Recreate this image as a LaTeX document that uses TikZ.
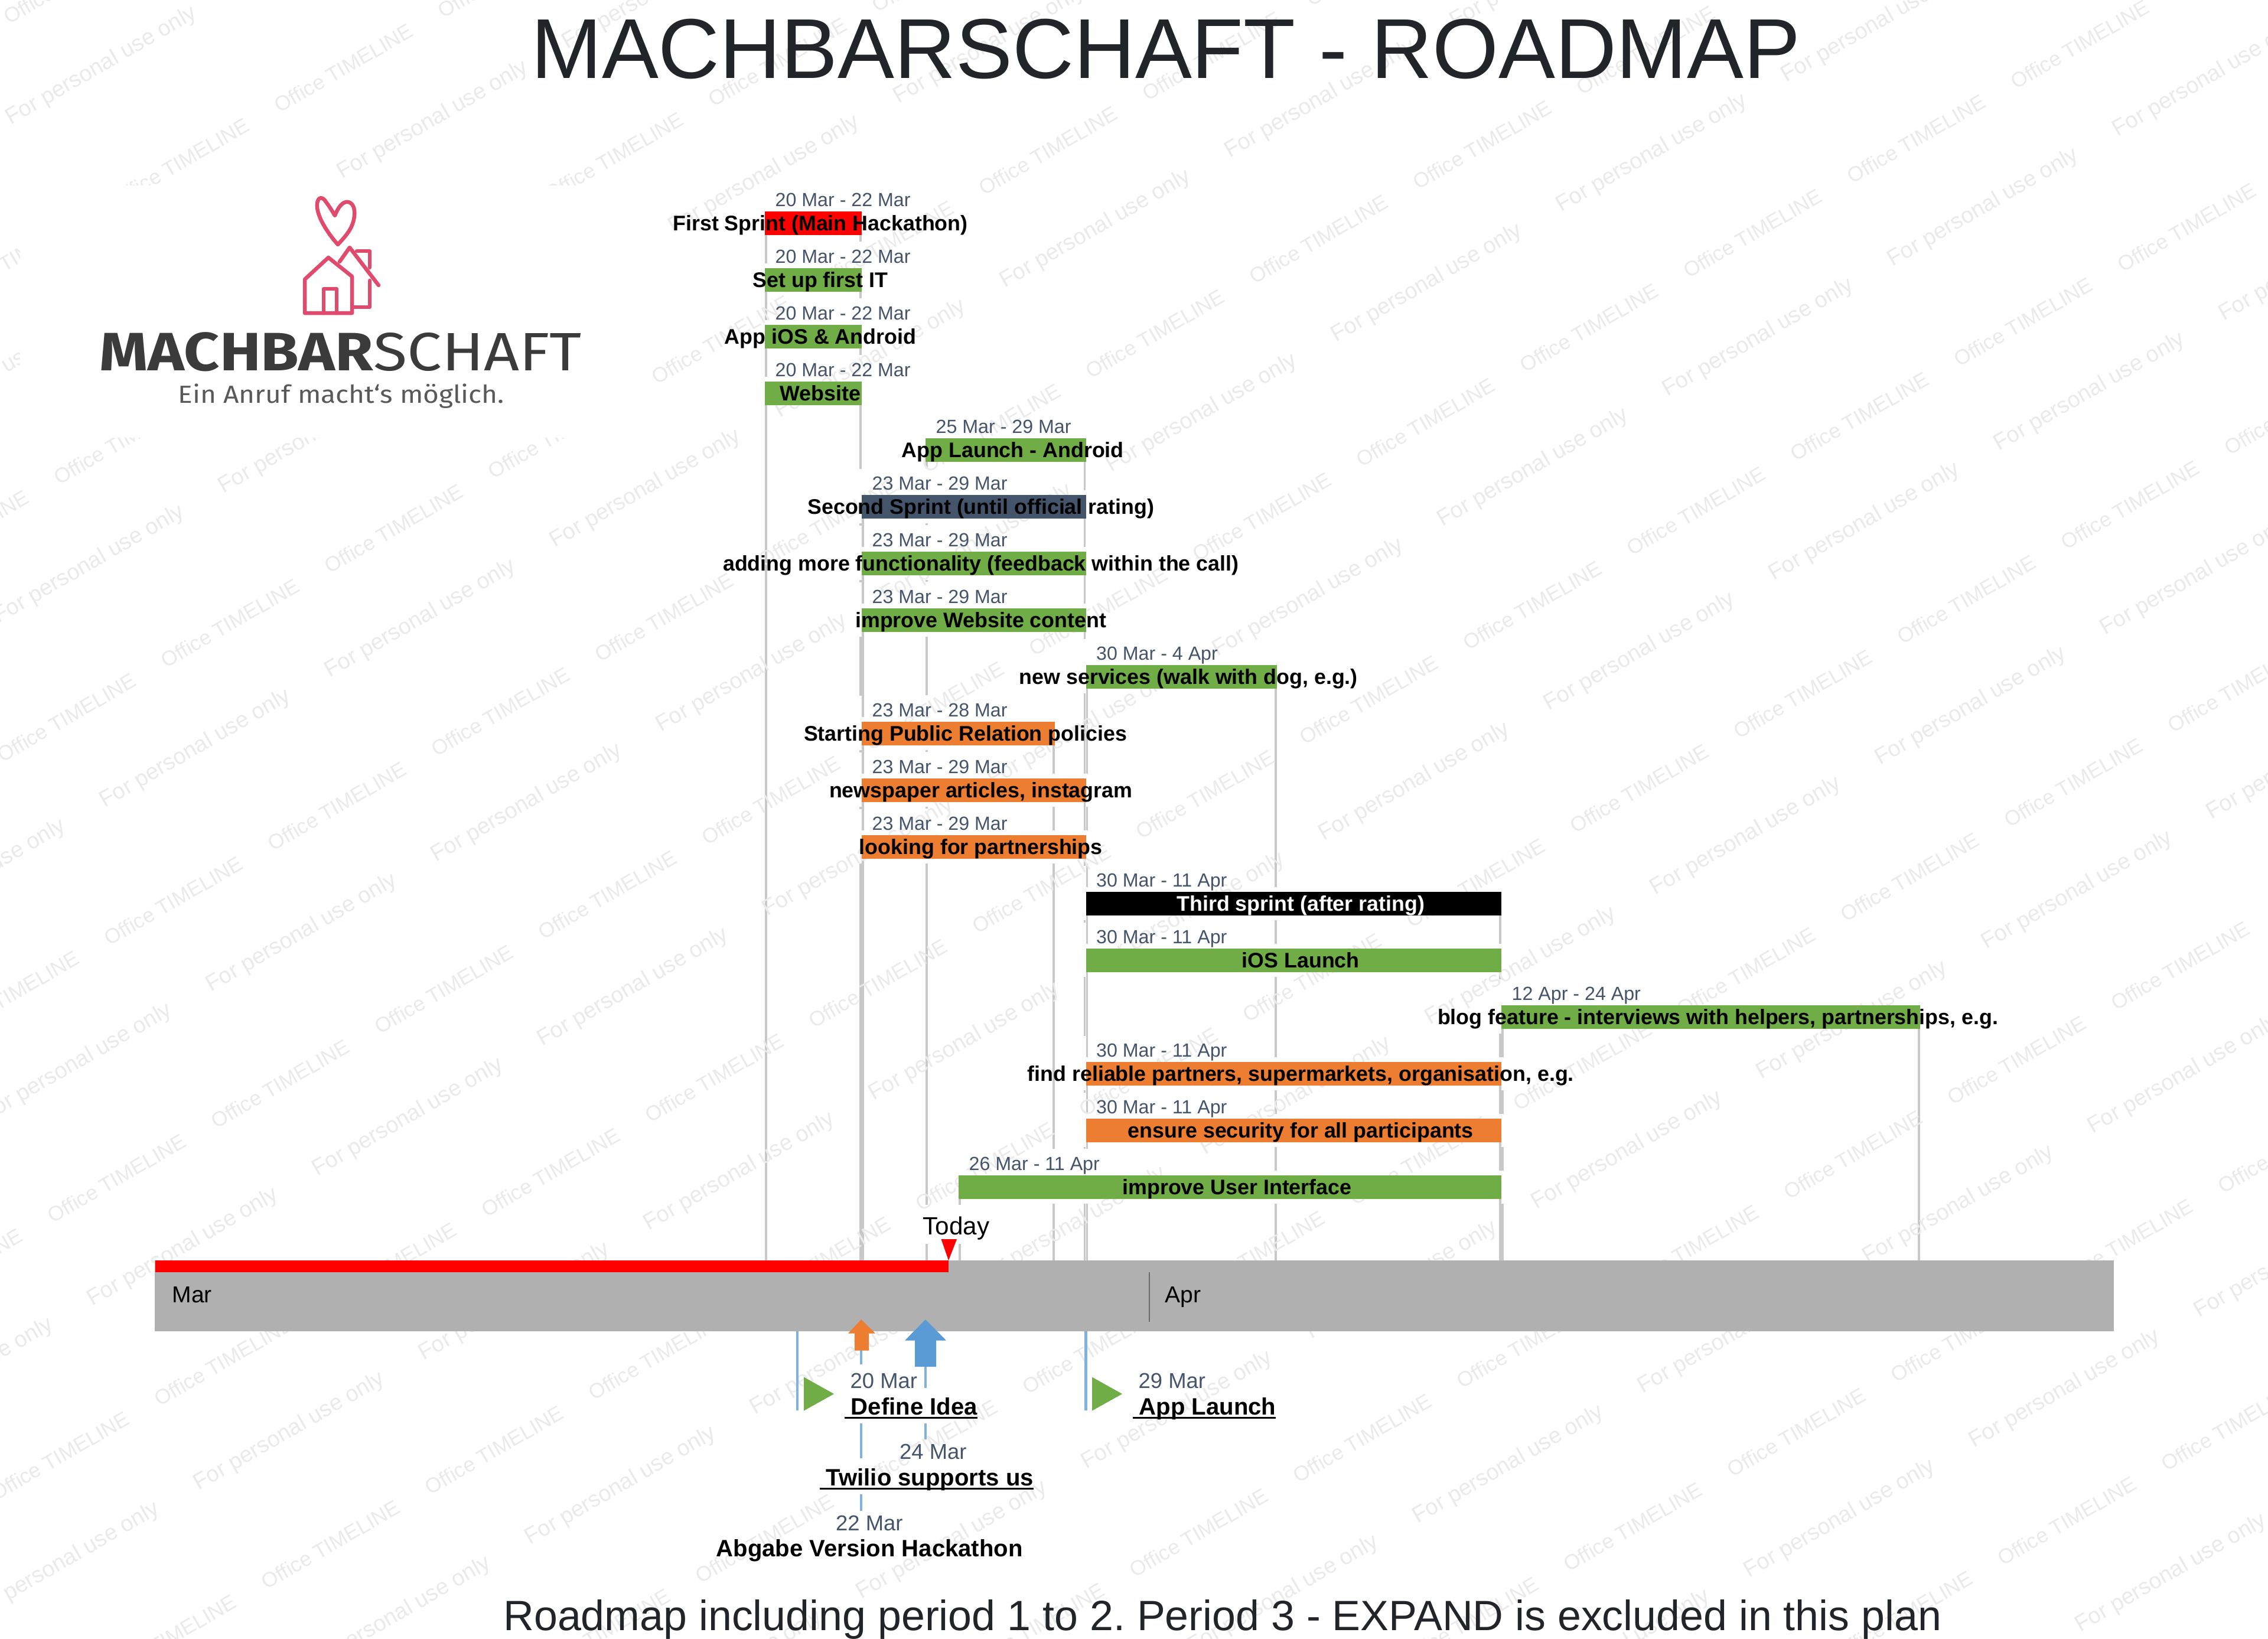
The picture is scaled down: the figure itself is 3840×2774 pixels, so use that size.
\documentclass[tikz,border=0pt]{standalone}
\usepackage{fontspec}
\setmainfont{Liberation Sans}
\newfontfamily\logofont{Fira Sans}
\definecolor{barred}{HTML}{FF0000}
\definecolor{bargreen}{HTML}{70AD47}
\definecolor{barorange}{HTML}{ED7D31}
\definecolor{barslate}{HTML}{44546A}
\definecolor{barblack}{HTML}{000000}
\definecolor{barblue}{HTML}{5B9BD5}
\definecolor{datecol}{HTML}{44546A}
\definecolor{dropcol}{HTML}{C8C8C8}
\definecolor{bandcol}{HTML}{B0B0B0}
\definecolor{mscol}{HTML}{7FB3DD}
\definecolor{wmcol}{HTML}{EAEAEA}
\definecolor{titlecol}{HTML}{212529}
\definecolor{logored}{HTML}{E04A6C}
\definecolor{logotxt}{HTML}{3B3B3B}
\definecolor{logosub}{HTML}{595959}
\frenchspacing
\newcommand{\datefont}{\fontsize{9.15}{11}\selectfont}
\newcommand{\msdatefont}{\fontsize{10.35}{12}\selectfont}
\newcommand{\labfont}{\bfseries\fontsize{10.18}{12}\selectfont}
\newcommand{\mslabfont}{\bfseries\fontsize{11.4}{13}\selectfont}
\newsavebox{\ulbox}
\newcommand{\ulined}[1]{\sbox{\ulbox}{#1}\leavevmode\rlap{\rule[-2.1pt]{\wd\ulbox}{1.1pt}}\usebox{\ulbox}}
\tikzset{
  drop/.style={draw=dropcol,line width=0.035cm},
  wmarko/.style={text=wmcol,font=\fontsize{10}{12}\selectfont,rotate=30,inner sep=0pt},
  wmarkp/.style={text=wmcol,font=\fontsize{10.8}{12}\selectfont,rotate=30,inner sep=0pt},
  bartext/.style={anchor=base,inner sep=0pt,font=\labfont},
  datetext/.style={anchor=base west,inner sep=0pt,font=\datefont,text=datecol},
  msdate/.style={anchor=base west,inner sep=0pt,font=\msdatefont,text=datecol},
  mstext/.style={anchor=base west,inner sep=0pt,font=\mslabfont},
  msline/.style={draw=mscol,line width=0.045cm},
  logoline/.style={draw=logored,line width=0.065cm,line join=round,line cap=round},
}
\newcommand{\rowdata}{
 0/1295/1459/barred/{20 Mar - 22 Mar}/{First Sprint (Main Hackathon)}/black,
 1/1295/1459/bargreen/{20 Mar - 22 Mar}/{Set up first IT}/black,
 2/1295/1459/bargreen/{20 Mar - 22 Mar}/{App iOS \& Android}/black,
 3/1295/1459/bargreen/{20 Mar - 22 Mar}/{Website}/black,
 4/1567/1838.5/bargreen/{25 Mar - 29 Mar}/{App Launch - Android}/black,
 5/1459/1838.5/barslate/{23 Mar - 29 Mar}/{Second Sprint (until official rating)}/black,
 6/1459/1838.5/bargreen/{23 Mar - 29 Mar}/{adding more functionality (feedback within the call)}/black,
 7/1459/1838.5/bargreen/{23 Mar - 29 Mar}/{improve Website content}/black,
 8/1838.5/2162/bargreen/{30 Mar - 4 Apr}/{new services (walk with dog, e.g.)}/black,
 9/1459/1786/barorange/{23 Mar - 28 Mar}/{Starting Public Relation policies}/black,
 10/1459/1838.5/barorange/{23 Mar - 29 Mar}/{newspaper articles, instagram}/black,
 11/1459/1838.5/barorange/{23 Mar - 29 Mar}/{looking for partnerships}/black,
 12/1838.5/2542/barblack/{30 Mar - 11 Apr}/{Third sprint (after rating)}/white,
 13/1838.5/2542/bargreen/{30 Mar - 11 Apr}/{iOS Launch}/black,
 14/2542/3251/bargreen/{12 Apr - 24 Apr}/{blog feature - interviews with helpers, partnerships, e.g.}/black,
 15/1838.5/2542/barorange/{30 Mar - 11 Apr}/{find reliable partners, supermarkets, organisation, e.g.}/black,
 16/1838.5/2542/barorange/{30 Mar - 11 Apr}/{ensure security for all participants}/black,
 17/1623/2542/bargreen/{26 Mar - 11 Apr}/{improve User Interface}/black}
\begin{document}
\begin{tikzpicture}[x=0.01cm,y=-0.01cm]
\useasboundingbox (0,0) rectangle (3840,2774);
\fill[white] (0,0) rectangle (3840,2774);
\coordinate (axis) at (0,2134);
% drop lines, white halos and date patches, row by row
\foreach \r/\xa/\xb/\col/\dd/\lb/\tc [expand list] in \rowdata {
  \pgfmathsetmacro{\rtop}{358+96*\r}
  \pgfmathsetmacro{\rbot}{397.5+96*\r}
  \fill[white] (\xa-4,\rtop-8) rectangle (\xb+4,\rbot+8);
  \fill[white] (\xa-9,\rtop-44) rectangle (\xa,\rtop);
  \node[anchor=south west,fill=white,inner xsep=0.08cm,inner ysep=0pt,minimum height=0.44cm,font=\datefont] (dbox\r) at (\xa+9,\rtop) {\phantom{\dd}};
  \coordinate (ls\r) at (\xa+2,\rbot);
  \coordinate (le\r) at (\xb-2,\rbot);
  \draw[drop] (ls\r) -- (ls\r |- axis);
  \draw[drop] (le\r) -- (le\r |- axis);
}
% patch behind the Today label
\fill[white] (1561,2040) rectangle (1677,2106);
% watermark
\begin{scope}
\clip (0,0) rectangle (3840,2774);
\foreach \i in {-11,...,4} \foreach \j in {-5,...,7} {
  \pgfmathsetmacro{\wx}{2690.6+\i*277+\j*181}
  \pgfmathsetmacro{\wy}{555-\i*160+\j*310}
  \pgfmathtruncatemacro{\inpage}{(\wx>-200)&&(\wx<4040)&&(\wy>-150)&&(\wy<2930)}
  \ifnum\inpage=1
    \node[wmarko] (wo\i x\j) at (\wx,\wy) {Office TIMELINE};
  \fi
}
\foreach \i in {-11,...,4} \foreach \j in {-5,...,7} {
  \pgfmathsetmacro{\wx}{3358+\i*381+\j*180}
  \pgfmathsetmacro{\wy}{352-\i*220+\j*312}
  \pgfmathtruncatemacro{\inpage}{(\wx>-200)&&(\wx<4040)&&(\wy>-150)&&(\wy<2930)}
  \ifnum\inpage=1
    \node[wmarkp] (wp\i x\j) at (\wx,\wy) {For personal use only};
  \fi
}
\end{scope}
% logo
\fill[white] (34,314) rectangle (1079,741);
\draw[logoline] (572,414) .. controls (555,395) and (535,365) .. (537,345) .. controls (538,333) and (546,332) .. (552,342) .. controls (558,350) and (563,358) .. (567,365) .. controls (572,352) and (580,340) .. (590,342) .. controls (600,345) and (602,358) .. (599,372) .. controls (595,390) and (583,402) .. (572,414);
\draw[logoline] (516,530) -- (516,473) -- (556,436) -- (596,468) -- (596,530) -- cycle;
\draw[logoline] (548,530) -- (548,489) -- (570,489) -- (570,530);
\draw[logoline] (575,443) -- (592,419) -- (641,483);
\draw[logoline] (604,425) -- (626,425) -- (626,453);
\draw[logoline] (626,475) -- (626,520) -- (597,520);
\node[anchor=base west,inner sep=0pt,text=logotxt,font=\logofont\fontsize{26}{30}\selectfont] (logoname) at (168,627) {\scalebox{1.145}[1]{\textbf{MACHBAR}SCHAFT}};
\node[anchor=base west,inner sep=0pt,text=logosub,font=\logofont\fontsize{11.9}{14}\selectfont] (logosubline) at (301,682) {\scalebox{1.1}[1]{Ein Anruf macht‘s möglich.}};
% title and footer
\node[anchor=base,inner sep=0pt,text=titlecol,font=\fontsize{40.9}{46}\selectfont] (title) at (1974,132) {MACHBARSCHAFT - ROADMAP};
\node[anchor=base,inner sep=0pt,text=titlecol,font=\fontsize{20.4}{24}\selectfont] (foot) at (2070,2760) {Roadmap including period 1 to 2. Period 3 - EXPAND is excluded in this plan};
% bars and their texts
\foreach \r/\xa/\xb/\col/\dd/\lb/\tc [expand list] in \rowdata {
  \pgfmathsetmacro{\rtop}{358+96*\r}
  \pgfmathsetmacro{\cx}{(\xa+\xb)/2}
  \pgfmathsetmacro{\barw}{(\xb-\xa)*0.01}
  \node[fill=\col,draw=none,inner sep=0pt,minimum width=\barw cm,minimum height=0.395cm] (bar\r) at (\cx,\rtop+19.75) {};
  \node[datetext] (date\r) at (\xa+17,\rtop-8.5) {\dd};
  \node[bartext,text=\tc] (lab\r) at (\cx+12,\rtop+32) {\lb};
}
% timeline band
\node[fill=bandcol,inner sep=0pt,minimum width=33.15cm,minimum height=1.2cm] (band) at (1920.5,2194) {};
\fill[barred] (263,2134) rectangle (1606,2154);
\coordinate (aprtop) at (1946,2154);
\coordinate (aprbot) at (1946,2238);
\draw[draw=black!40!bandcol,line width=0.025cm] (aprtop) -- (aprbot);
\node[anchor=base west,inner sep=0pt,font=\fontsize{11.1}{13}\selectfont] (mar) at (291,2205) {Mar};
\node[anchor=base west,inner sep=0pt,font=\fontsize{11.1}{13}\selectfont] (apr) at (1972,2205) {Apr};
% today
\node[anchor=base,inner sep=0pt,font=\fontsize{12}{14}\selectfont] (today) at (1619,2090) {Today};
\fill[barred] (1593.5,2098) -- (1620,2098) -- (1606,2134) -- cycle;
% milestone lines
\coordinate (ma) at (1350,2254);
\coordinate (mb) at (1838.5,2254);
\draw[msline] (ma) -- (1350,2388);
\draw[msline] (mb) -- (1838.5,2388);
\coordinate (o1) at (1458,2286);
\coordinate (o2) at (1458,2310);
\coordinate (o3) at (1458,2410);
\coordinate (o4) at (1458,2469);
\coordinate (o5) at (1458,2530);
\coordinate (o6) at (1458,2558);
\draw[msline] (o1) -- (o2);
\draw[msline] (o3) -- (o4);
\draw[msline] (o5) -- (o6);
\coordinate (b1) at (1567,2314);
\coordinate (b2) at (1567,2350);
\coordinate (b3) at (1567,2410);
\coordinate (b4) at (1567,2437);
\draw[msline] (b1) -- (b2);
\draw[msline] (b3) -- (b4);
% milestone markers
\fill[bargreen] (1361,2331.5) -- (1412,2360) -- (1361,2388.5) -- cycle;
\fill[bargreen] (1849,2331.5) -- (1900,2360) -- (1849,2388.5) -- cycle;
\fill[barorange] (1458,2234) -- (1482,2257.5) -- (1471,2257.5) -- (1471,2286.5) -- (1447,2286.5) -- (1447,2257.5) -- (1436,2257.5) -- cycle;
\fill[barblue] (1567,2234) -- (1602,2269.5) -- (1585,2269.5) -- (1585,2314) -- (1549,2314) -- (1549,2269.5) -- (1532,2269.5) -- cycle;
% milestone labels
\node[msdate] (md1) at (1439,2350) {20 Mar};
\node[mstext] (ml1) at (1429,2395) {\ulined{\ Define Idea}};
\node[msdate] (md2) at (1927,2350) {29 Mar};
\node[mstext] (ml2) at (1917,2395) {\ulined{\ App Launch}};
\node[msdate] (md3) at (1522.5,2470) {24 Mar};
\node[mstext] (ml3) at (1387,2515) {\ulined{\ Twilio supports us}};
\node[msdate] (md4) at (1414.5,2591) {22 Mar};
\node[mstext] (ml4) at (1212,2635.5) {Abgabe Version Hackathon};
\end{tikzpicture}
\end{document}
